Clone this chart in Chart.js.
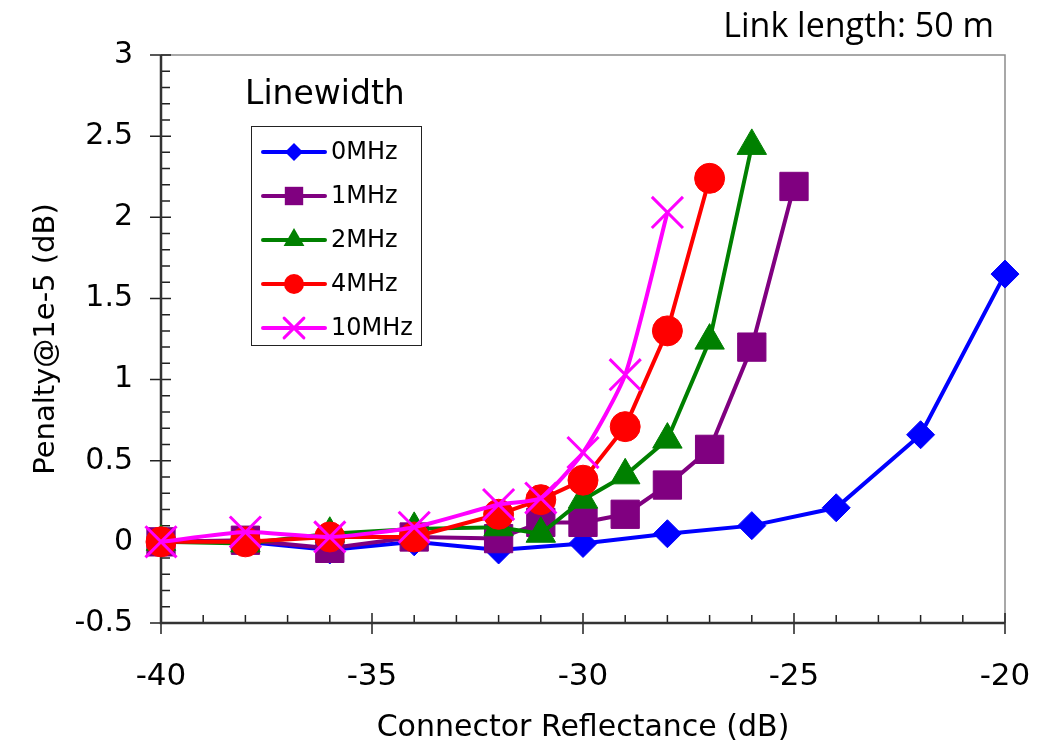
<!DOCTYPE html>
<html>
<head>
<meta charset="utf-8">
<script src="https://cdn.jsdelivr.net/npm/chart.js@4/dist/chart.umd.min.js"></script>
<style>
html,body{margin:0;padding:0;background:#fff;}
#wrap{width:1053px;height:747px;position:relative;}
</style>
</head>
<body>
<div id="wrap"><canvas id="c" width="1053" height="747"></canvas></div>
<script>
// ---- Data ----
const seriesLabels = ["0MHz", "1MHz", "2MHz", "4MHz", "10MHz"];
const seriesColors = ["#0000FF", "#800080", "#008000", "#FF0000", "#FF00FF"];
const seriesMarkers = ["rectRot", "rect", "triangle", "circle", "crossRot"];

const x0MHz = [-40, -38, -36, -34, -32, -30, -28, -26, -24, -22, -20];
const y0MHz = [0, 0, -0.05, 0, -0.05, -0.01, 0.05, 0.1, 0.21, 0.66, 1.65];

const x1MHz = [-40, -38, -36, -34, -32, -31, -30, -29, -28, -27, -26, -25];
const y1MHz = [0, 0.01, -0.04, 0.03, 0.02, 0.12, 0.12, 0.17, 0.35, 0.57, 1.2, 2.19];

const x2MHz = [-40, -38, -36, -34, -32, -31, -30, -29, -28, -27, -26];
const y2MHz = [0, -0.01, 0.05, 0.08, 0.09, 0.05, 0.26, 0.41, 0.63, 1.24, 2.44];

const x4MHz = [-40, -38, -36, -34, -32, -31, -30, -29, -28, -27];
const y4MHz = [0, 0, 0.03, 0.03, 0.17, 0.26, 0.38, 0.71, 1.3, 2.24];

const x10MHz = [-40, -38, -36, -34, -32, -31, -30, -29, -28];
const y10MHz = [0, 0.06, 0.03, 0.09, 0.23, 0.27, 0.55, 1.03, 2.03];

const xTickValues = [-40, -35, -30, -25, -20];
const yTickValues = [-0.5, 0, 0.5, 1, 1.5, 2, 2.5, 3];

const xs = [x0MHz, x1MHz, x2MHz, x4MHz, x10MHz];
const ys = [y0MHz, y1MHz, y2MHz, y4MHz, y10MHz];

// ---- Styles ----
const FONT = '"DejaVu Sans", sans-serif';
const markerRadius = [14, 20, 17, 15, 22];
const legendRadius = [9, 13, 12, 10, 14];

const datasets = seriesLabels.map((lab, i) => ({
  label: lab,
  data: xs[i].map((x, k) => ({x: x, y: ys[i][k]})),
  borderColor: seriesColors[i],
  backgroundColor: seriesColors[i],
  pointBackgroundColor: seriesColors[i],
  pointBorderColor: seriesColors[i],
  pointStyle: seriesMarkers[i],
  pointRadius: markerRadius[i],
  pointHoverRadius: markerRadius[i],
  pointBorderWidth: seriesMarkers[i] === 'crossRot' ? 3 : 1,
  borderWidth: 4,
  tension: i === 4 ? 0.2 : 0,
  fill: false,
  clip: false,
  order: seriesLabels.length - i
}));

function drawMarker(ctx, style, x, y, r, color) {
  ctx.save();
  ctx.fillStyle = color; ctx.strokeStyle = color;
  ctx.beginPath();
  if (style === 'rectRot') {
    ctx.moveTo(x, y - r); ctx.lineTo(x + r, y); ctx.lineTo(x, y + r); ctx.lineTo(x - r, y); ctx.closePath(); ctx.fill();
  } else if (style === 'rect') {
    const s = r * Math.SQRT1_2; ctx.fillRect(x - s, y - s, 2 * s, 2 * s);
  } else if (style === 'triangle') {
    ctx.moveTo(x, y - r);
    ctx.lineTo(x + r * Math.sin(Math.PI * 2 / 3), y - r * Math.cos(Math.PI * 2 / 3));
    ctx.lineTo(x - r * Math.sin(Math.PI * 2 / 3), y - r * Math.cos(Math.PI * 2 / 3));
    ctx.closePath(); ctx.fill();
  } else if (style === 'circle') {
    ctx.arc(x, y, r, 0, Math.PI * 2); ctx.fill();
  } else if (style === 'crossRot') {
    const d = r * Math.SQRT1_2; ctx.lineWidth = 3;
    ctx.moveTo(x - d, y - d); ctx.lineTo(x + d, y + d);
    ctx.moveTo(x + d, y - d); ctx.lineTo(x - d, y + d); ctx.stroke();
  }
  ctx.restore();
}

const decor = {
  id: 'decor',
  beforeDatasetsDraw(chart) {
    const ctx = chart.ctx, a = chart.chartArea;
    const xs_ = chart.scales.x, ys_ = chart.scales.y;
    ctx.save();
    // top & right border
    ctx.strokeStyle = '#8c8c8c'; ctx.lineWidth = 1.5;
    ctx.beginPath();
    ctx.moveTo(a.left, a.top); ctx.lineTo(a.right, a.top); ctx.lineTo(a.right, a.bottom);
    ctx.stroke();
    // ticks
    ctx.strokeStyle = '#222'; ctx.lineWidth = 1.5;
    ctx.beginPath();
    for (let v = -40; v <= -20; v += 1) {
      const px = xs_.getPixelForValue(v);
      const major = (v % 5 === 0);
      if (major) { ctx.moveTo(px, a.bottom - 10); ctx.lineTo(px, a.bottom + 11); }
      else { ctx.moveTo(px, a.bottom - 8); ctx.lineTo(px, a.bottom); }
    }
    for (let k = -5; k <= 30; k++) {
      const v = k / 10;
      const py = ys_.getPixelForValue(v);
      const major = (k % 5 === 0);
      if (major) { ctx.moveTo(a.left - 11, py); ctx.lineTo(a.left + 10, py); }
      else { ctx.moveTo(a.left, py); ctx.lineTo(a.left + 9, py); }
    }
    ctx.stroke();
    // axis lines
    ctx.strokeStyle = '#333'; ctx.lineWidth = 2.5;
    ctx.beginPath();
    ctx.moveTo(a.left, a.top); ctx.lineTo(a.left, a.bottom); ctx.lineTo(a.right, a.bottom);
    ctx.stroke();
    ctx.restore();
  },
  afterDraw(chart) {
    const ctx = chart.ctx;
    ctx.save();
    // Link length text
    ctx.fillStyle = '#000';
    ctx.font = '34px "Open Sans", Lato, sans-serif';
    ctx.textAlign = 'right'; ctx.textBaseline = 'alphabetic';
    ctx.fillText('Link length: 50 m', 994, 37);
    // Legend title
    ctx.font = '33px ' + FONT;
    ctx.textAlign = 'left';
    ctx.fillText('Linewidth', 245, 104);
    // Legend box
    const bx = 251, by = 126, bw = 170, bh = 219;
    ctx.fillStyle = '#fff'; ctx.fillRect(bx, by, bw, bh);
    ctx.strokeStyle = '#222'; ctx.lineWidth = 1;
    ctx.strokeRect(bx + 0.5, by + 0.5, bw, bh);
    chart.data.datasets.forEach((ds, i) => {
      const yy = 152 + i * 44;
      ctx.strokeStyle = ds.borderColor; ctx.lineWidth = 4; ctx.lineCap = 'round';
      ctx.beginPath(); ctx.moveTo(263, yy); ctx.lineTo(325, yy); ctx.stroke();
      drawMarker(ctx, ds.pointStyle, 294, yy, legendRadius[i], ds.borderColor);
      ctx.fillStyle = '#000'; ctx.font = '24px ' + FONT;
      ctx.textAlign = 'left'; ctx.textBaseline = 'middle';
      ctx.fillText(ds.label, 331, yy + 1);
    });
    ctx.restore();
  }
};

new Chart(document.getElementById('c'), {
  type: 'line',
  data: { datasets: datasets },
  options: {
    responsive: false,
    animation: false,
    devicePixelRatio: 1,
    layout: { padding: { left: 0, right: 48, top: 55, bottom: 0 } },
    plugins: { legend: { display: false }, tooltip: { enabled: false } },
    scales: {
      x: {
        type: 'linear', min: -40, max: -20,
        afterBuildTicks(s) { s.ticks = xTickValues.map(v => ({value: v})); },
        afterFit(s) { s.height = 747 - 623; s.paddingLeft = 0; s.paddingRight = 0; },
        grid: { display: false, drawTicks: false },
        border: { display: false },
        ticks: { color: '#000', font: { family: FONT, size: 31 }, padding: 35, maxRotation: 0,
                 callback: v => String(v) },
        title: { display: true, text: 'Connector Reflectance (dB)', color: '#000',
                 font: { family: FONT, size: 30 }, padding: { top: 2, bottom: 1 } }
      },
      y: {
        type: 'linear', min: -0.5, max: 3,
        afterBuildTicks(s) { s.ticks = yTickValues.map(v => ({value: v})); },
        afterFit(s) { s.width = 161; s.paddingTop = 0; s.paddingBottom = 0; },
        grid: { display: false, drawTicks: false },
        border: { display: false },
        ticks: { color: '#000', font: { family: FONT, size: 30 }, padding: 28,
                 callback: v => String(v) },
        title: { display: true, text: 'Penalty@1e-5 (dB)', color: '#000',
                 font: { family: FONT, size: 29 }, padding: { top: 29, bottom: 0 } }
      }
    }
  },
  plugins: [decor]
});
</script>
</body>
</html>
